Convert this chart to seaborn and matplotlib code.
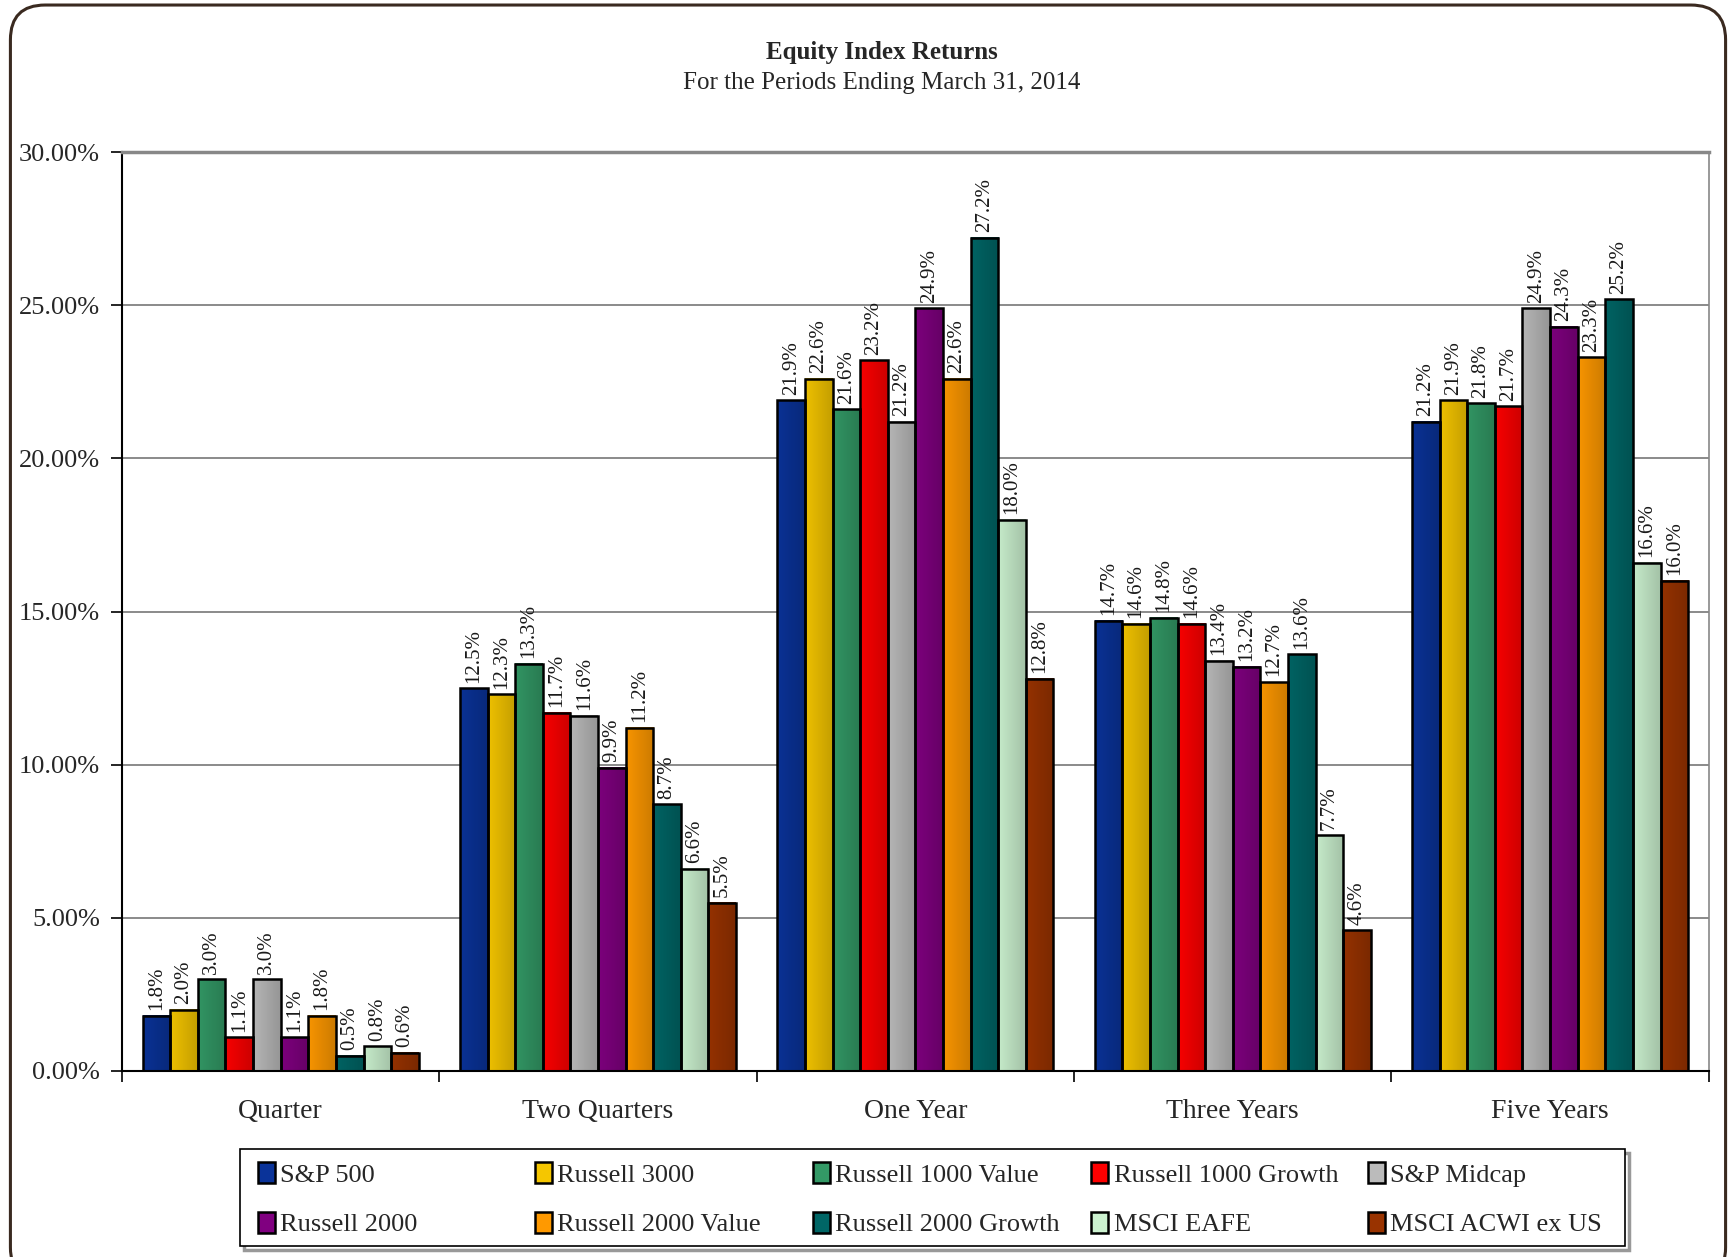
import numpy as np
import pandas as pd
import matplotlib
matplotlib.use("Agg")
import matplotlib.pyplot as plt
import matplotlib.colors as mcolors
import seaborn as sns
from matplotlib.patches import FancyBboxPatch, Patch, Rectangle
from matplotlib.ticker import FuncFormatter, FixedLocator

periods = ["Quarter", "Two Quarters", "One Year", "Three Years", "Five Years"]
indices = ["S&P 500", "Russell 3000", "Russell 1000 Value", "Russell 1000 Growth",
           "S&P Midcap", "Russell 2000", "Russell 2000 Value", "Russell 2000 Growth",
           "MSCI EAFE", "MSCI ACWI ex US"]

quarter = [1.8, 2.0, 3.0, 1.1, 3.0, 1.1, 1.8, 0.5, 0.8, 0.6]
two_quarters = [12.5, 12.3, 13.3, 11.7, 11.6, 9.9, 11.2, 8.7, 6.6, 5.5]
one_year = [21.9, 22.6, 21.6, 23.2, 21.2, 24.9, 22.6, 27.2, 18.0, 12.8]
three_years = [14.7, 14.6, 14.8, 14.6, 13.4, 13.2, 12.7, 13.6, 7.7, 4.6]
five_years = [21.2, 21.9, 21.8, 21.7, 24.9, 24.3, 23.3, 25.2, 16.6, 16.0]

colors = ["#0A3399", "#F5C600", "#339966", "#FF0000", "#BBBBBB",
          "#800080", "#FF9900", "#006666", "#CCF2D0", "#993300"]

rows = []
for period, vals in zip(periods, [quarter, two_quarters, one_year, three_years, five_years]):
    for name, v in zip(indices, vals):
        rows.append({"period": period, "index": name, "ret": v})
df = pd.DataFrame(rows)

sns.set_style("white")
plt.rcParams['font.family'] = ['Liberation Serif', 'DejaVu Serif']

fig = plt.figure(figsize=(17.36, 12.57), dpi=100)
ax = fig.add_axes([0.0703, 0.148, 0.914, 0.731])

sns.barplot(data=df, x="period", y="ret", hue="index", hue_order=indices,
            order=periods, palette=colors, width=0.87, gap=0, errorbar=None,
            edgecolor="black", linewidth=1.8, saturation=1, ax=ax, legend=False)

# horizontal shading on each bar: lighter left, darker right
for cont, c in zip(ax.containers, colors):
    rgb = np.array(mcolors.to_rgb(c))
    left = rgb * 0.97
    right = rgb * 0.80
    t = np.linspace(0, 1, 64)[None, :, None]
    grad = left * (1 - t) + right * t
    for bar in cont:
        x0, w, h = bar.get_x(), bar.get_width(), bar.get_height()
        ax.imshow(grad, extent=[x0, x0 + w, 0, h], aspect="auto",
                  zorder=bar.get_zorder() - 0.05, interpolation="bilinear")
        bar.set_facecolor("none")
    ax.bar_label(cont, fmt="{:.1f}%", rotation=90, padding=4, fontsize=15, color="#1a1a1a")

ax.set_ylim(0, 30)
ax.set_xlim(-0.5, 4.5)
ax.set_yticks(range(0, 31, 5))
ax.yaxis.set_major_formatter(FuncFormatter(lambda v, p: f"{v:.2f}%"))
ax.yaxis.grid(True, color="#777777", linewidth=1.2)
ax.set_axisbelow(True)
ax.tick_params(axis="y", labelsize=19, left=True, length=8, width=1.2, color="black", pad=8)
ax.tick_params(axis="x", labelsize=20, length=0, pad=20)
ax.xaxis.set_minor_locator(FixedLocator([-0.5, 0.5, 1.5, 2.5, 3.5, 4.5]))
ax.tick_params(axis="x", which="minor", bottom=True, length=8, width=1.2, color="black")
ax.set_xlabel("")
ax.set_ylabel("")
ax.spines["left"].set_color("black")
ax.spines["bottom"].set_color("black")
ax.spines["left"].set_linewidth(1.5)
ax.spines["bottom"].set_linewidth(1.5)
ax.spines["top"].set_color("#888888")
ax.spines["top"].set_linewidth(2.5)
ax.spines["right"].set_color("#888888")
ax.spines["right"].set_linewidth(1.2)

fig.text(0.508, 0.958, "Equity Index Returns", ha="center", va="center",
         fontsize=18, fontweight="bold")
fig.text(0.508, 0.934, "For the Periods Ending March 31, 2014", ha="center",
         va="center", fontsize=18)

# legend: fixed-width columns inside one framed box
shadow = Rectangle((0.1405, 0.0058), 0.798, 0.0772, transform=fig.transFigure,
                   facecolor="none", edgecolor="#999999", linewidth=2.5, zorder=4)
frame = Rectangle((0.1383, 0.0088), 0.798, 0.0772, transform=fig.transFigure,
                  facecolor="white", edgecolor="black", linewidth=1.2, zorder=5)
fig.patches.extend([shadow, frame])
col_x = [0.1486, 0.3082, 0.4683, 0.6285, 0.7880]
for j, x in enumerate(col_x):
    hs = [Patch(facecolor=colors[k], edgecolor="black", linewidth=1.8) for k in (j, j + 5)]
    lg = fig.legend(hs, [indices[j], indices[j + 5]], loc="center left",
                    bbox_to_anchor=(x, 0.046), fontsize=19, frameon=False,
                    handlelength=0.65, handleheight=0.85, handletextpad=0.2,
                    labelspacing=0.95, borderpad=0, borderaxespad=0)
    lg.set_zorder(6)

border = FancyBboxPatch((0.006, -0.02), 0.988, 1.016, transform=fig.transFigure,
                        boxstyle="round,pad=0,rounding_size=0.02",
                        facecolor="none", edgecolor="#3A2A20", linewidth=2.2,
                        mutation_aspect=1.38)
fig.patches.append(border)

fig.savefig("out.png", dpi=100)
